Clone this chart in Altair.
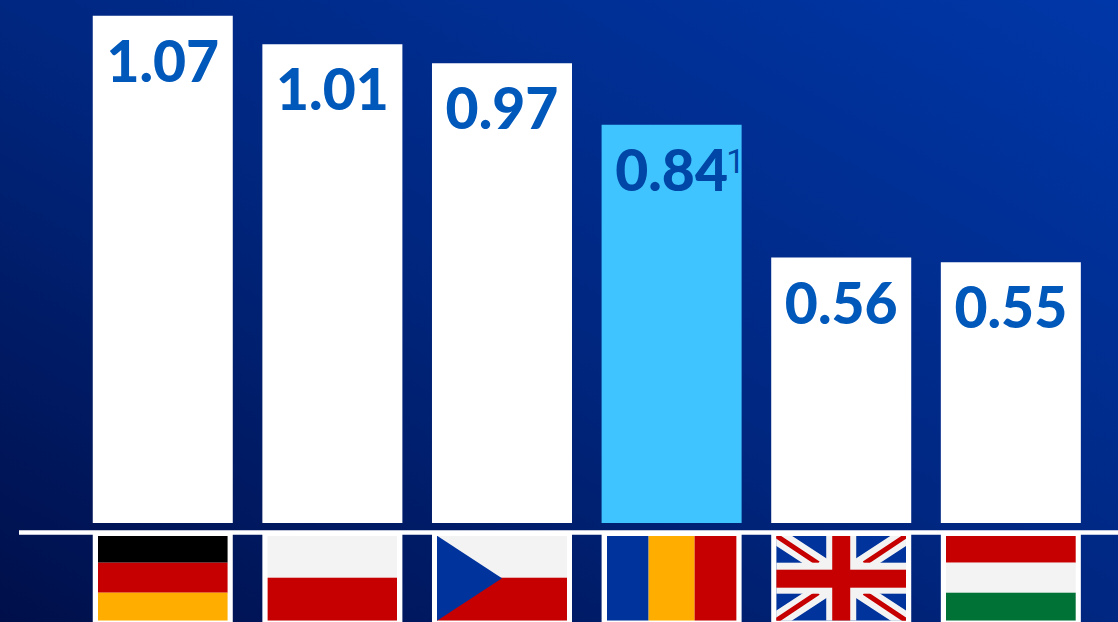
import base64
import altair as alt
import pandas as pd

countries = ["Germany", "Poland", "Czechia", "Romania", "United Kingdom", "Hungary"]
values = [1.07, 1.01, 0.97, 0.84, 0.56, 0.55]
labels = ["1.07", "1.01", "0.97", "0.84", "0.56", "0.55"]
notes = ["", "", "", "1", "", ""]
highlight = [False, False, False, True, False, False]

RED, GOLD, BLUE, WHITE, GREEN = "#C60000", "#FFAE00", "#00339C", "#F3F3F3", "#007236"


def stripes_h(colors, weights):
    total, y, out = sum(weights), 0, ""
    for c, w in zip(colors, weights):
        out += f'<rect x="0" y="{y}" width="130" height="{85 * w / total}" fill="{c}"/>'
        y += 85 * w / total
    return out


def stripes_v(colors, weights):
    total, x, out = sum(weights), 0, ""
    for c, w in zip(colors, weights):
        out += f'<rect x="{x}" y="0" width="{130 * w / total}" height="85" fill="{c}"/>'
        x += 130 * w / total
    return out


czech = (
    stripes_h([WHITE, RED], [42, 43])
    + f'<polygon points="0,0 65,42.5 0,85" fill="{BLUE}"/>'
)
union_jack = (
    f'<rect width="130" height="85" fill="{BLUE}"/>'
    f'<path d="M0,0L130,85M130,0L0,85" stroke="{WHITE}" stroke-width="17"/>'
    f'<path d="M0,0L42,28M130,0L88,28M0,85L42,57M130,85L88,57" stroke="{RED}" stroke-width="5"/>'
    f'<rect x="50" width="30" height="85" fill="{WHITE}"/>'
    f'<rect y="27" width="130" height="31" fill="{WHITE}"/>'
    f'<rect x="56" width="18" height="85" fill="{RED}"/>'
    f'<rect y="34" width="130" height="18" fill="{RED}"/>'
)
flag_bodies = [
    stripes_h(["#000000", RED, GOLD], [27, 30, 28]),
    stripes_h([WHITE, RED], [42, 43]),
    czech,
    stripes_v([BLUE, GOLD, RED], [42, 46, 42]),
    union_jack,
    stripes_h([RED, WHITE, GREEN], [27, 30, 28]),
]


def flag_uri(body):
    svg = (
        '<svg xmlns="http://www.w3.org/2000/svg" width="130" height="85" '
        f'viewBox="0 0 130 85">{body}</svg>'
    )
    return "data:image/svg+xml;base64," + base64.b64encode(svg.encode()).decode()


df = pd.DataFrame(
    {
        "country": countries,
        "value": values,
        "label": labels,
        "note": notes,
        "highlight": highlight,
        "flag": [flag_uri(b) for b in flag_bodies],
    }
)

x = alt.X(
    "country:N",
    sort=countries,
    axis=None,
    scale=alt.Scale(range=[78, 1095.6], paddingInner=0.1745, paddingOuter=0.087),
)
y = alt.Y(
    "value:Q",
    axis=None,
    scale=alt.Scale(domain=[0, 1.1034], range=[523, 0]),
)

backdrop = (
    alt.Chart(pd.DataFrame({"a": [0]}))
    .mark_rect(
        color=alt.LinearGradient(
            gradient="linear",
            x1=1, y1=0,
            x2=0, y2=1,
            stops=[
                alt.GradientStop(offset=0, color="#0037A8"),
                alt.GradientStop(offset=0.5, color="#002781"),
                alt.GradientStop(offset=1, color="#000F4A"),
            ],
        )
    )
    .encode(x=alt.value(0), x2=alt.value(1118), y=alt.value(0), y2=alt.value(622))
)

bars = (
    alt.Chart(df)
    .mark_bar()
    .encode(
        x=x,
        y=y,
        color=alt.condition("datum.highlight", alt.value("#40C4FF"), alt.value("#FFFFFF")),
    )
)

flag_backing = (
    alt.Chart(df)
    .mark_bar(color="#FFFFFF")
    .encode(x=x, y=alt.value(534), y2=alt.value(622))
)

baseline = (
    alt.Chart(pd.DataFrame({"a": [0]}))
    .mark_rule(color="#FFFFFF", strokeWidth=4.5)
    .encode(x=alt.value(19), x2=alt.value(1118), y=alt.value(532.4))
)

flags = (
    alt.Chart(df)
    .mark_image(width=130, height=85, align="center", baseline="middle", aspect=False)
    .encode(x=x, y=alt.value(578.2), url="flag:N")
)

value_labels = (
    alt.Chart(df)
    .mark_text(
        font="Lato",
        fontWeight=900,
        fontSize=57,
        align="center",
        baseline="alphabetic",
        yOffset=66,
    )
    .encode(
        x=x,
        y=y,
        text="label:N",
        color=alt.condition("datum.highlight", alt.value("#0046A6"), alt.value("#0058BB")),
    )
)

footnote = (
    alt.Chart(df)
    .transform_filter("datum.note != ''")
    .mark_text(
        font="Roboto",
        fontWeight=400,
        fontSize=33,
        align="center",
        baseline="alphabetic",
        color="#0046A6",
        dx=64,
        yOffset=48,
    )
    .encode(x=x, y=y, text="note:N")
)

chart = (
    alt.layer(backdrop, bars, flag_backing, baseline, flags, value_labels, footnote)
    .properties(width=1118, height=622, padding=0, autosize=alt.AutoSizeParams(type="none"))
    .configure_view(strokeWidth=0)
)

chart.save("out.html", embed_options={"renderer": "svg", "actions": False})
